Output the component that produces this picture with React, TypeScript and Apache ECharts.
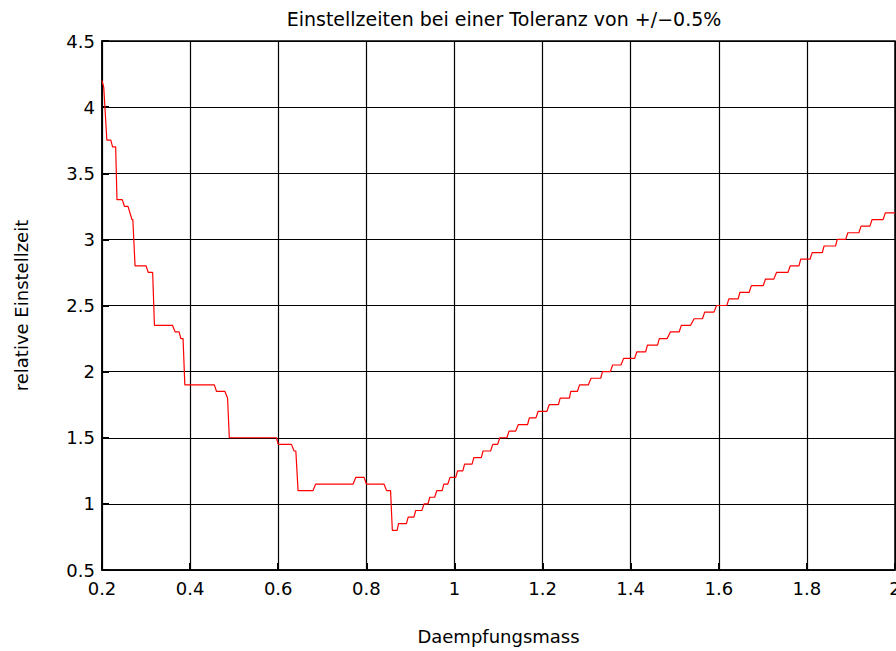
import React, { useEffect, useRef } from "react";
import * as echarts from "echarts";

// Plateaus of the stepped curve: level, x where the level starts, x where it ends
const levelY = [
  4.2, 4.15, 3.75, 3.7, 3.3, 3.25, 3.15, 2.8, 2.75, 2.35, 2.3, 2.25, 1.9, 1.85, 1.8,
  1.5, 1.45, 1.4, 1.1, 1.15, 1.2, 1.15, 1.1, 0.8,
  0.85, 0.9, 0.95, 1.0, 1.05, 1.1, 1.15, 1.2, 1.25, 1.3, 1.35, 1.4, 1.45, 1.5, 1.55,
  1.6, 1.65, 1.7, 1.75, 1.8, 1.85, 1.9, 1.95, 2.0, 2.05, 2.1, 2.15, 2.2, 2.25, 2.3,
  2.35, 2.4, 2.45, 2.5, 2.55, 2.6, 2.65, 2.7, 2.75, 2.8, 2.85, 2.9, 2.95, 3.0, 3.05,
  3.1, 3.15, 3.2,
];
const levelStart = [
  0.2, 0.204, 0.211, 0.224, 0.234, 0.251, 0.268, 0.275, 0.305, 0.319, 0.366, 0.379,
  0.388, 0.46, 0.485, 0.489, 0.6, 0.636, 0.645, 0.685, 0.776, 0.8, 0.846, 0.859,
  0.873, 0.895, 0.912, 0.931, 0.944, 0.96, 0.976, 0.99, 1.007, 1.023, 1.044, 1.065,
  1.087, 1.103, 1.124, 1.145, 1.17, 1.19, 1.215, 1.24, 1.264, 1.284, 1.31, 1.336,
  1.359, 1.384, 1.414, 1.438, 1.465, 1.49, 1.515, 1.544, 1.568, 1.595, 1.623, 1.648,
  1.674, 1.706, 1.731, 1.762, 1.786, 1.812, 1.839, 1.869, 1.893, 1.923, 1.948, 1.978,
];
const levelEnd = [
  0.201, 0.205, 0.22, 0.231, 0.246, 0.259, 0.27, 0.3, 0.315, 0.36, 0.375, 0.384,
  0.455, 0.479, 0.486, 0.596, 0.63, 0.64, 0.679, 0.77, 0.795, 0.84, 0.855, 0.87,
  0.891, 0.908, 0.926, 0.94, 0.955, 0.972, 0.985, 1.003, 1.019, 1.04, 1.061, 1.082,
  1.098, 1.119, 1.139, 1.166, 1.185, 1.21, 1.236, 1.261, 1.279, 1.304, 1.332, 1.354,
  1.378, 1.409, 1.434, 1.461, 1.483, 1.51, 1.536, 1.563, 1.589, 1.618, 1.644, 1.669,
  1.701, 1.725, 1.757, 1.782, 1.807, 1.835, 1.865, 1.888, 1.918, 1.943, 1.973, 2.0,
];

const titleText = "Einstellzeiten bei einer Toleranz von +/\u22120.5%";
const xName = "Daempfungsmass";
const yName = "relative Einstellzeit";

const FONT = "DejaVu Sans";

export default function App() {
  const ref = useRef<HTMLDivElement>(null);
  useEffect(() => {
    document.body.style.margin = "0";
    if (!ref.current) return;
    const chart = echarts.init(ref.current, undefined, { renderer: "svg" });
    const points: number[][] = [];
    levelY.forEach((y, i) => {
      points.push([levelStart[i], y]);
      if (levelEnd[i] !== levelStart[i]) points.push([levelEnd[i], y]);
    });
    const axisLine = { show: true, lineStyle: { color: "#000", width: 1.5 } };
    const splitLine = { show: true, lineStyle: { color: "#000", width: 1.2 } };
    const textBase = { fontFamily: FONT, fontWeight: "normal", color: "#000" };
    chart.setOption({
      animation: false,
      backgroundColor: "#fff",
      title: {
        text: titleText,
        left: 499,
        top: 4,
        textAlign: "center",
        textStyle: { ...textBase, fontSize: 19 },
      },
      grid: {
        left: 102,
        right: 1,
        top: 41,
        bottom: 81,
        outerBoundsMode: "none",
        containLabel: false,
        show: true,
        borderColor: "#000",
        borderWidth: 1.5,
      },
      xAxis: {
        type: "value",
        min: 0.2,
        max: 2,
        interval: 0.2,
        name: xName,
        nameLocation: "middle",
        nameGap: 57,
        nameTextStyle: { ...textBase, fontSize: 18 },
        axisLine,
        axisTick: { show: true, inside: true, length: 7, lineStyle: { color: "#000", width: 2 } },
        splitLine,
        axisLabel: { ...textBase, fontSize: 18, margin: 9 },
      },
      yAxis: {
        type: "value",
        min: 0.5,
        max: 4.5,
        interval: 0.5,
        name: yName,
        nameLocation: "middle",
        nameGap: 72,
        nameTextStyle: { ...textBase, fontSize: 18 },
        axisLine,
        axisTick: { show: true, inside: true, length: 7, lineStyle: { color: "#000", width: 2 } },
        splitLine,
        axisLabel: { ...textBase, fontSize: 18, margin: 7 },
      },
      series: [
        {
          type: "line",
          data: points,
          showSymbol: false,
          symbol: "none",
          lineStyle: { color: "#ff0000", width: 1.2 },
          itemStyle: { color: "#ff0000" },
        },
      ],
    });
    return () => chart.dispose();
  }, []);
  return <div ref={ref} style={{ width: 896, height: 651 }} />;
}
